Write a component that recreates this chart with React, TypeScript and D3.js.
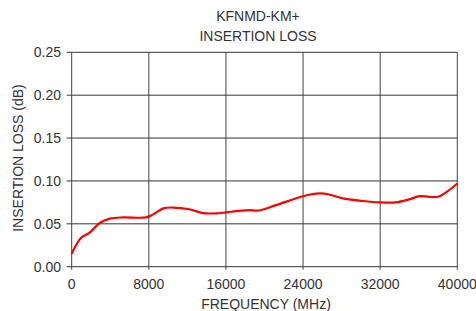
import React from "react";
import * as d3 from "d3";

const title1 = "KFNMD-KM+";
const title2 = "INSERTION LOSS";
const xTitle = "FREQUENCY (MHz)";
const yTitle = "INSERTION LOSS (dB)";

const xTicks = [0, 8000, 16000, 24000, 32000, 40000];
const yTicks = [0, 0.05, 0.1, 0.15, 0.2, 0.25];

const freq = [0, 250, 1000, 1900, 2900, 3950, 5300, 7700, 8450, 9500, 10500, 12200, 13600, 15000, 16000, 17400, 18400, 19400, 21200, 24000, 25700, 26700, 28100, 30200, 31900, 33600, 35000, 36100, 37100, 38000, 38900, 40000];
const loss = [0.015, 0.021, 0.034, 0.04, 0.051, 0.056, 0.0575, 0.0575, 0.061, 0.068, 0.069, 0.067, 0.0625, 0.0622, 0.0634, 0.0652, 0.066, 0.0655, 0.0718, 0.0822, 0.0854, 0.0842, 0.0796, 0.0766, 0.075, 0.075, 0.0785, 0.0823, 0.0815, 0.0815, 0.0872, 0.097];

export default function App() {
  const W = 476, H = 311;
  const x = d3.scaleLinear().domain([0, 40000]).range([71.7, 457.3]);
  const y = d3.scaleLinear().domain([0, 0.25]).range([266.7, 52.3]);
  const data = freq.map((f, i) => [f, loss[i]] as [number, number]);
  const line = d3.line<[number, number]>().x(d => x(d[0])).y(d => y(d[1])).curve(d3.curveCatmullRom.alpha(0.5));
  const font = "'Liberation Sans', Arial, sans-serif";
  const fs = 14;
  return (
    <svg width={W} height={H} style={{ position: "absolute", left: 0, top: 0, background: "#fff" }} fontFamily={font}>
      {yTicks.map(t => (
        <line key={"h" + t} x1={x(0) - 5} x2={x(40000)} y1={y(t)} y2={y(t)} stroke="#333" strokeWidth={1} />
      ))}
      {xTicks.map(t => (
        <line key={"v" + t} x1={x(t)} x2={x(t)} y1={y(0.25)} y2={y(0) + 3} stroke="#444" strokeWidth={1} />
      ))}
      {yTicks.map(t => (
        <text key={"yl" + t} x={61} y={y(t)} dy="0.36em" textAnchor="end" fontSize={fs} fill="#333">{d3.format(".2f")(t)}</text>
      ))}
      {xTicks.map(t => (
        <text key={"xl" + t} x={x(t)} y={289} textAnchor="middle" fontSize={fs} fill="#333">{t}</text>
      ))}
      <path d={line(data) || ""} fill="none" stroke="#ff0000" strokeWidth={2.2} />
      <text x={258} y={21} textAnchor="middle" fontSize={fs} fill="#333">{title1}</text>
      <text x={258} y={40.5} textAnchor="middle" fontSize={fs} fill="#333">{title2}</text>
      <text x={266} y={309} textAnchor="middle" fontSize={fs} fill="#333">{xTitle}</text>
      <text transform={`translate(23,158) rotate(-90)`} textAnchor="middle" fontSize={fs} fill="#333">{yTitle}</text>
    </svg>
  );
}
